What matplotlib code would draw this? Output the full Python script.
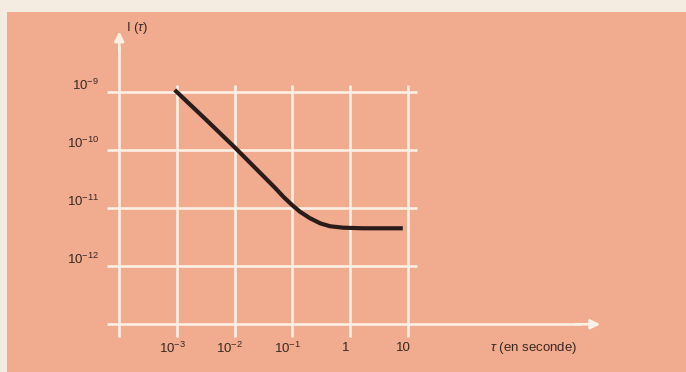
import numpy as np
import matplotlib.pyplot as plt
from matplotlib.patches import Rectangle
from matplotlib.transforms import offset_copy

plt.rcParams['font.family'] = ['Liberation Sans', 'DejaVu Sans']
plt.rcParams['mathtext.fontset'] = 'custom'
plt.rcParams['mathtext.rm'] = 'Liberation Sans'
plt.rcParams['mathtext.it'] = 'Liberation Sans:italic'

# data
tau = [10**-3.04, 10**-2.5, 10**-2.0, 10**-1.7, 10**-1.45, 10**-1.3, 10**-1.15,
       10**-1.0, 10**-0.87, 10**-0.70, 10**-0.52, 10**-0.35, 10**-0.12,
       10**0.22, 10**0.91]
I_tau = [10**-8.96, 10**-9.47, 10**-9.95, 10**-10.25, 10**-10.50, 10**-10.65, 10**-10.81,
         10**-10.95, 10**-11.06, 10**-11.17, 10**-11.26, 10**-11.31, 10**-11.335,
         10**-11.345, 10**-11.345]

xticks = [1e-3, 1e-2, 1e-1, 1, 10]
xlabels = ['$10^{-3}$', '$10^{-2}$', '$10^{-1}$', '1', '10']
yticks = [1e-9, 1e-10, 1e-11, 1e-12]
ylabels = ['$10^{-9}$', '$10^{-10}$', '$10^{-11}$', '$10^{-12}$']

salmon = '#f1ab8e'
paper = '#f4ece0'
white = '#fcefe4'
ink = '#3a2822'

fig = plt.figure(figsize=(6.86, 3.72), dpi=100, facecolor=paper)
ax = fig.add_axes([0, 0, 1, 1])
ax.set_xscale('log')
ax.set_yscale('log')
ax.set_xlim(10**-6.065, 10**5.814)
ax.set_ylim(10**-13.823, 10**-7.409)
ax.axis('off')

ax.add_patch(Rectangle((7 / 686, 0), 1, 360 / 372, transform=ax.transAxes,
                       facecolor=salmon, edgecolor='none', zorder=0))

# grid
ax.hlines(yticks, 10**-4.21, 10**1.16, color=white, lw=1.9, zorder=1)
ax.vlines(xticks, 10**-13.22, 10**-8.87, color=white, lw=1.9, zorder=1)

# axes with arrows
ax.vlines(1e-4, 10**-13.22, 10**-8.2, color=white, lw=1.9, zorder=1)
ax.hlines(1e-13, 10**-4.21, 10**4.0, color=white, lw=1.9, zorder=1)
ax.annotate('', xy=(1e-4, 10**-7.95), xytext=(1e-4, 10**-8.3),
            arrowprops=dict(arrowstyle='-|>', color=white, lw=1.9,
                            mutation_scale=14, shrinkA=0, shrinkB=0))
ax.annotate('', xy=(10**4.33, 1e-13), xytext=(10**3.9, 1e-13),
            arrowprops=dict(arrowstyle='-|>', color=white, lw=1.9,
                            mutation_scale=14, shrinkA=0, shrinkB=0))

# curve
ax.plot(tau, I_tau, color='#2a1c1a', lw=3.0, solid_capstyle='butt',
        solid_joinstyle='round', zorder=3)

# tick labels
fs = 9.5
yt = offset_copy(ax.transData, fig=fig, x=0, y=5, units='points')
for v, s in zip(yticks, ylabels):
    ax.text(10**-4.35, v, s, transform=yt, ha='right', va='center',
            fontsize=fs, color=ink)
xt = offset_copy(ax.transData, fig=fig, x=-3.5, y=0, units='points')
for v, s in zip(xticks, xlabels):
    ax.text(v, 10**-13.41, s, transform=xt, ha='center', va='center',
            fontsize=fs, color=ink)

ax.text(10**-3.88, 10**-7.9, r'I ($\tau$)', ha='left', va='center',
        fontsize=fs, color=ink)
ax.text(10**2.42, 10**-13.41, r'$\tau$ (en seconde)', ha='left', va='center',
        fontsize=fs, color=ink)

fig.savefig('out.png', dpi=100, facecolor=paper)
